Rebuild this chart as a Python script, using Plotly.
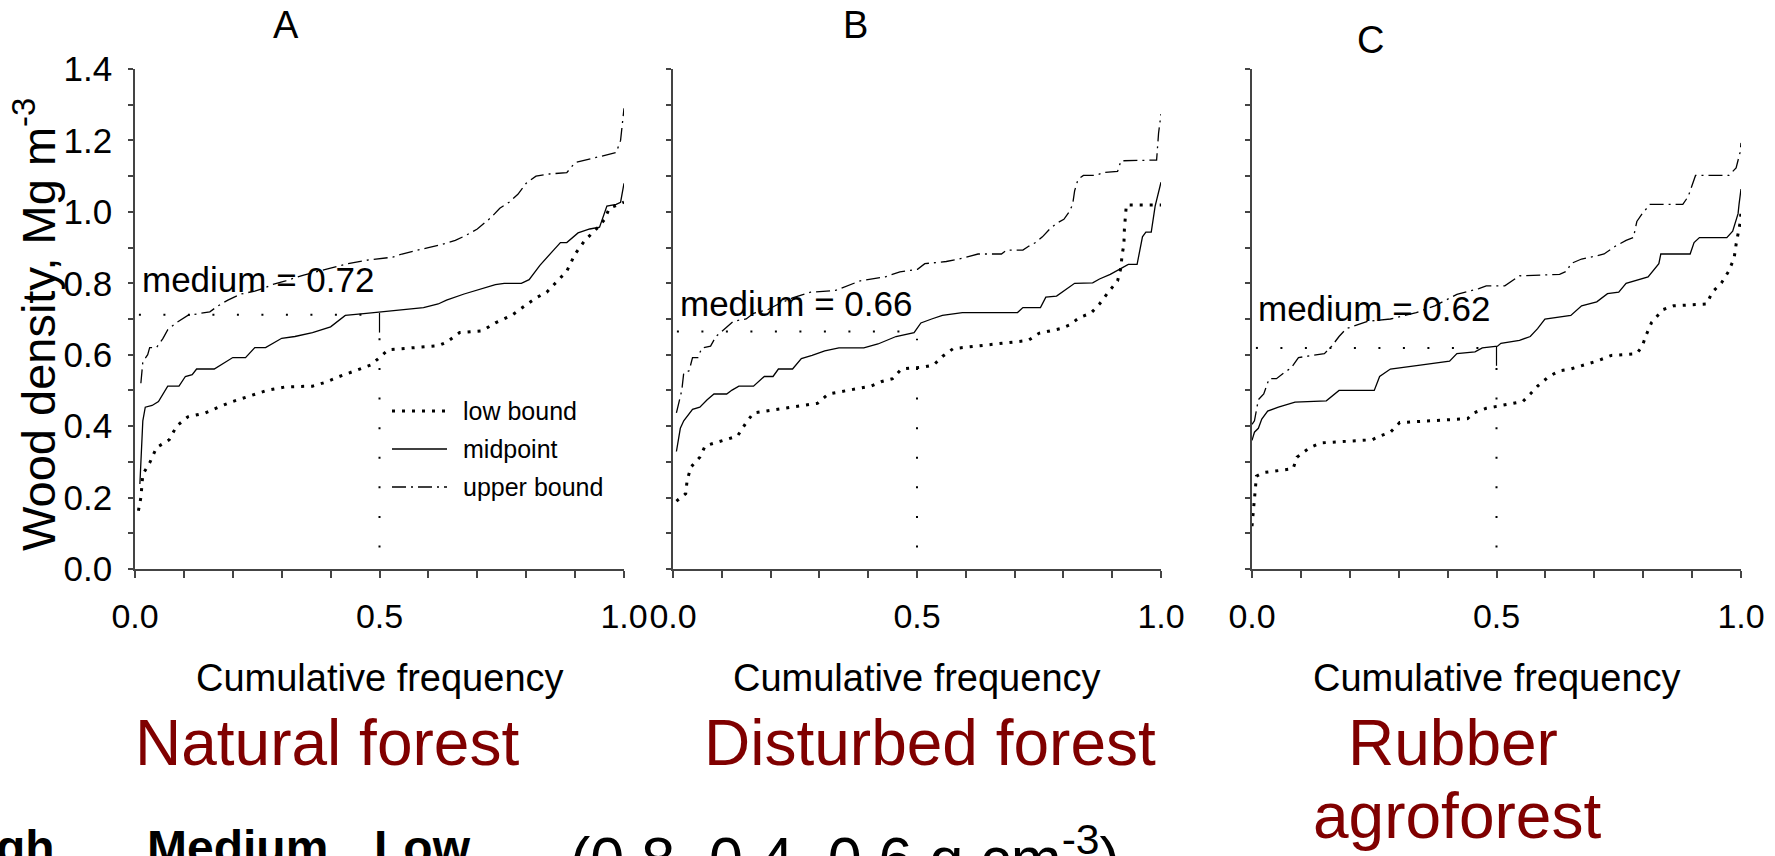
import plotly.graph_objects as go

W, H = 1775, 856
FONT = "Liberation Sans, Arial, sans-serif"
RED = "#800000"

panels = ["A", "B", "C"]
forest_names = ["Natural forest", "Disturbed forest", "Rubber", "agroforest"]
median_values = [0.712, 0.665, 0.619]
median_labels = ["medium = 0.72", "medium = 0.66", "medium = 0.62"]
x_ticks = [0.0, 0.5, 1.0]
y_ticks = [0.0, 0.2, 0.4, 0.6, 0.8, 1.0, 1.2, 1.4]
legend_names = ["low bound", "midpoint", "upper bound"]
caption_words = ["High,", "Medium,", "Low"]
caption_values = "(0.8, 0.4, 0.6 g cm<sup>-3</sup>)"

# ---------------- Panel A (natural forest) ----------------
a_low_x = [0.007, 0.012, 0.016, 0.03, 0.044, 0.07, 0.085, 0.108, 0.144, 0.17, 0.2, 0.235, 0.272, 0.308,
           0.363, 0.39, 0.418, 0.454, 0.482, 0.5, 0.518, 0.564, 0.62, 0.637, 0.664, 0.71, 0.737, 0.77,
           0.797, 0.82, 0.842, 0.86, 0.883, 0.9, 0.92, 0.947, 0.96, 0.97, 0.988, 1.0]
a_low_y = [0.163, 0.2, 0.265, 0.297, 0.34, 0.362, 0.4, 0.426, 0.437, 0.453, 0.469, 0.485, 0.501, 0.51,
           0.512, 0.523, 0.539, 0.557, 0.571, 0.592, 0.614, 0.619, 0.625, 0.635, 0.662, 0.667, 0.689, 0.71,
           0.737, 0.759, 0.775, 0.8, 0.834, 0.882, 0.92, 0.957, 0.978, 1.01, 1.021, 1.027]
a_mid_x = [0.01, 0.012, 0.016, 0.021, 0.035, 0.048, 0.057, 0.067, 0.09, 0.103, 0.117, 0.126, 0.162, 0.18,
           0.2, 0.226, 0.245, 0.267, 0.28, 0.3, 0.327, 0.363, 0.4, 0.43, 0.473, 0.5, 0.546, 0.59, 0.62,
           0.637, 0.673, 0.71, 0.737, 0.755, 0.79, 0.806, 0.828, 0.856, 0.87, 0.883, 0.906, 0.93, 0.95,
           0.965, 0.984, 0.993, 1.0]
a_mid_y = [0.238, 0.31, 0.415, 0.453, 0.458, 0.469, 0.49, 0.512, 0.512, 0.539, 0.544, 0.56, 0.56, 0.576,
           0.592, 0.592, 0.62, 0.62, 0.63, 0.646, 0.651, 0.662, 0.678, 0.71, 0.716, 0.72, 0.726, 0.732,
           0.742, 0.753, 0.77, 0.786, 0.796, 0.8, 0.8, 0.81, 0.85, 0.893, 0.914, 0.914, 0.941, 0.952,
           0.957, 1.016, 1.021, 1.027, 1.08]
a_up_x = [0.012, 0.016, 0.026, 0.03, 0.044, 0.057, 0.067, 0.085, 0.108, 0.13, 0.153, 0.17, 0.19, 0.217,
          0.245, 0.263, 0.28, 0.308, 0.345, 0.39, 0.436, 0.48, 0.5, 0.527, 0.546, 0.573, 0.6, 0.628, 0.655,
          0.678, 0.7, 0.728, 0.746, 0.765, 0.783, 0.8, 0.82, 0.847, 0.883, 0.9, 0.92, 0.95, 0.984, 0.993, 1.0]
a_up_y = [0.52, 0.58, 0.6, 0.62, 0.62, 0.645, 0.67, 0.69, 0.71, 0.715, 0.72, 0.737, 0.753, 0.77,
          0.778, 0.786, 0.796, 0.807, 0.823, 0.839, 0.855, 0.866, 0.869, 0.873, 0.882, 0.89, 0.9, 0.909,
          0.92, 0.935, 0.952, 0.984, 1.01, 1.027, 1.049, 1.08, 1.1, 1.106, 1.11, 1.138, 1.145, 1.155,
          1.166, 1.2, 1.29]

# ---------------- Panel B (disturbed forest) ----------------
b_low_x = [0.007, 0.026, 0.029, 0.037, 0.055, 0.066, 0.132, 0.15, 0.165, 0.296, 0.318, 0.362, 0.406,
           0.428, 0.45, 0.468, 0.512, 0.534, 0.552, 0.574, 0.706, 0.728, 0.75, 0.794, 0.812, 0.834, 0.856,
           0.874, 0.892, 0.911, 0.918, 0.92, 0.924, 0.925, 0.929, 1.0]
b_low_y = [0.19, 0.211, 0.249, 0.286, 0.313, 0.345, 0.372, 0.41, 0.437, 0.464, 0.49, 0.501, 0.512,
           0.525, 0.533, 0.56, 0.565, 0.571, 0.595, 0.617, 0.635, 0.64, 0.66, 0.673, 0.683, 0.705, 0.716,
           0.742, 0.775, 0.807, 0.844, 0.877, 0.909, 0.952, 1.019, 1.019]
b_mid_x = [0.007, 0.015, 0.022, 0.04, 0.055, 0.07, 0.084, 0.11, 0.121, 0.135, 0.165, 0.187, 0.205, 0.216,
           0.245, 0.263, 0.285, 0.311, 0.34, 0.391, 0.42, 0.457, 0.494, 0.508, 0.53, 0.552, 0.593, 0.706,
           0.717, 0.753, 0.764, 0.786, 0.823, 0.86, 0.874, 0.896, 0.933, 0.951, 0.962, 0.969, 0.98, 0.988, 1.0]
b_mid_y = [0.329, 0.394, 0.415, 0.447, 0.453, 0.474, 0.49, 0.49, 0.501, 0.512, 0.512, 0.539, 0.539, 0.56,
           0.56, 0.589, 0.598, 0.611, 0.619, 0.619, 0.63, 0.651, 0.662, 0.689, 0.7, 0.71, 0.718, 0.718,
           0.732, 0.732, 0.761, 0.764, 0.8, 0.801, 0.812, 0.825, 0.853, 0.853, 0.93, 0.943, 0.943, 1.016, 1.083]
b_up_x = [0.007, 0.018, 0.022, 0.033, 0.04, 0.051, 0.059, 0.077, 0.088, 0.106, 0.124, 0.15, 0.165, 0.194,
          0.216, 0.245, 0.282, 0.333, 0.384, 0.435, 0.465, 0.501, 0.516, 0.56, 0.596, 0.625, 0.673, 0.684,
          0.717, 0.728, 0.743, 0.757, 0.772, 0.786, 0.801, 0.812, 0.819, 0.823, 0.83, 0.841, 0.867, 0.882,
          0.911, 0.918, 0.991, 0.995, 1.0]
b_up_y = [0.437, 0.5, 0.549, 0.555, 0.592, 0.592, 0.619, 0.624, 0.651, 0.673, 0.694, 0.7, 0.716, 0.726,
          0.742, 0.759, 0.775, 0.78, 0.807, 0.818, 0.832, 0.839, 0.855, 0.861, 0.871, 0.882, 0.882, 0.893,
          0.893, 0.903, 0.914, 0.93, 0.952, 0.968, 0.979, 1.0, 1.021, 1.059, 1.091, 1.102, 1.102, 1.11,
          1.113, 1.143, 1.145, 1.22, 1.274]

# ---------------- Panel C (rubber agroforest) ----------------
c_low_x = [0.0, 0.003, 0.005, 0.007, 0.009, 0.024, 0.084, 0.092, 0.118, 0.141, 0.246, 0.261, 0.283, 0.302,
           0.441, 0.453, 0.479, 0.554, 0.569, 0.584, 0.607, 0.629, 0.652, 0.705, 0.735, 0.787, 0.798, 0.806,
           0.817, 0.84, 0.862, 0.93, 0.941, 0.96, 0.975, 0.986, 0.99, 0.994, 0.998, 1.0]
c_low_y = [0.12, 0.158, 0.19, 0.227, 0.26, 0.27, 0.281, 0.313, 0.34, 0.353, 0.362, 0.372, 0.383, 0.41,
           0.421, 0.437, 0.45, 0.469, 0.49, 0.512, 0.539, 0.555, 0.56, 0.582, 0.598, 0.603, 0.624, 0.655,
           0.69, 0.726, 0.737, 0.742, 0.775, 0.801, 0.834, 0.871, 0.909, 0.941, 0.968, 1.0]
c_mid_x = [0.0, 0.003, 0.005, 0.013, 0.02, 0.032, 0.054, 0.088, 0.152, 0.178, 0.25, 0.261, 0.283, 0.344,
           0.404, 0.419, 0.456, 0.471, 0.502, 0.509, 0.547, 0.569, 0.584, 0.599, 0.652, 0.674, 0.705, 0.727,
           0.75, 0.765, 0.795, 0.81, 0.832, 0.836, 0.896, 0.904, 0.915, 0.971, 0.983, 0.994, 0.996, 1.0]
c_mid_y = [0.36, 0.372, 0.383, 0.394, 0.42, 0.442, 0.453, 0.467, 0.471, 0.5, 0.5, 0.539, 0.56, 0.571,
           0.582, 0.603, 0.608, 0.619, 0.624, 0.632, 0.64, 0.651, 0.673, 0.7, 0.71, 0.737, 0.748, 0.771,
           0.775, 0.8, 0.812, 0.818, 0.855, 0.882, 0.882, 0.914, 0.928, 0.928, 0.946, 0.995, 1.021, 1.064]
c_up_x = [0.0, 0.005, 0.013, 0.024, 0.035, 0.05, 0.065, 0.08, 0.095, 0.148, 0.163, 0.178, 0.193, 0.216,
          0.238, 0.283, 0.336, 0.374, 0.419, 0.464, 0.479, 0.517, 0.532, 0.547, 0.629, 0.644, 0.652, 0.674,
          0.705, 0.72, 0.742, 0.765, 0.78, 0.787, 0.798, 0.814, 0.881, 0.892, 0.907, 0.975, 0.99, 0.998, 1.0]
c_up_y = [0.405, 0.415, 0.474, 0.49, 0.533, 0.533, 0.549, 0.563, 0.592, 0.603, 0.624, 0.651, 0.673, 0.683,
          0.694, 0.7, 0.718, 0.737, 0.769, 0.785, 0.793, 0.793, 0.807, 0.821, 0.825, 0.834, 0.855, 0.868,
          0.877, 0.882, 0.903, 0.92, 0.928, 0.973, 0.995, 1.021, 1.021, 1.043, 1.102, 1.102, 1.123, 1.166, 1.193]

data = {
    "A": [(a_low_x, a_low_y), (a_mid_x, a_mid_y), (a_up_x, a_up_y)],
    "B": [(b_low_x, b_low_y), (b_mid_x, b_mid_y), (b_up_x, b_up_y)],
    "C": [(c_low_x, c_low_y), (c_mid_x, c_mid_y), (c_up_x, c_up_y)],
}

# styles
LOW_STYLE = dict(color="black", width=3, dash="3px,7px")
MID_STYLE = dict(color="black", width=1.3)
UP_STYLE = dict(color="black", width=1.3, dash="14px,5px,2px,5px")
styles = [LOW_STYLE, MID_STYLE, UP_STYLE]


def px(x):
    return x / W


def py(y):
    return 1 - y / H


x_dom_px = [(135, 624), (673, 1161), (1252, 1741)]
y_dom = [py(569), py(69)]

fig = go.Figure()
shapes = []
annotations = []

for i, p in enumerate(panels):
    xa = "x" if i == 0 else f"x{i + 1}"
    ya = "y" if i == 0 else f"y{i + 1}"
    for (xs, ys), st, nm in zip(data[p], styles, legend_names):
        fig.add_trace(go.Scatter(x=xs, y=ys, mode="lines", line=st, name=nm,
                                 showlegend=False, xaxis=xa, yaxis=ya, hoverinfo="skip"))
    med = median_values[i]
    # horizontal dotted median line
    fig.add_trace(go.Scatter(x=[0.008, 0.5], y=[med, med], mode="lines",
                             line=dict(color="black", width=2, dash="2px,22.5px"),
                             showlegend=False, xaxis=xa, yaxis=ya, hoverinfo="skip"))
    # vertical dotted line at cumulative frequency 0.5
    fig.add_trace(go.Scatter(x=[0.5, 0.5], y=[0.06, med - 0.02], mode="lines",
                             line=dict(color="black", width=2, dash="2px,27.6px"),
                             showlegend=False, xaxis=xa, yaxis=ya, hoverinfo="skip"))
    if p != "B":
        fig.add_trace(go.Scatter(x=[0.5, 0.5], y=[med - 0.05, med + 0.005], mode="lines",
                                 line=dict(color="black", width=1.2),
                                 showlegend=False, xaxis=xa, yaxis=ya, hoverinfo="skip"))

    axis_common = dict(showline=True, linecolor="#444", linewidth=1.5, showgrid=False, zeroline=False,
                       ticks="outside", tickcolor="#444", tickwidth=1.5, mirror=False, automargin=False)
    x0, x1 = x_dom_px[i]
    fig.update_layout(**{
        ("xaxis" if i == 0 else f"xaxis{i + 1}"): dict(
            domain=[px(x0), px(x1)], range=[0, 1], anchor=ya, tickvals=x_ticks,
            ticktext=[f"{v:.1f}" for v in x_ticks], ticklen=7,
            minor=dict(dtick=0.1, tick0=0, ticks="outside", ticklen=7, tickcolor="#444", tickwidth=1.5),
            tickfont=dict(family=FONT, size=34, color="black"), ticklabelstandoff=9,
            **axis_common),
        ("yaxis" if i == 0 else f"yaxis{i + 1}"): dict(
            domain=y_dom, range=[0, 1.4], anchor=xa, tickvals=y_ticks,
            ticktext=[f"{v:.1f}" for v in y_ticks], ticklen=5, showticklabels=(i == 0),
            minor=dict(dtick=0.1, tick0=0, ticks="outside", ticklen=5, tickcolor="#444", tickwidth=1.5),
            tickfont=dict(family=FONT, size=35, color="black"), ticklabelstandoff=9,
            **axis_common),
    })
    annotations.append(dict(x=(x0 + x1) / 2 / W, y=py(678), xref="paper", yref="paper",
                            text="Cumulative frequency", showarrow=False,
                            font=dict(family=FONT, size=38, color="black"),
                            xanchor="center", yanchor="middle"))

# panel letters
for letter, (cx, cy) in zip(panels, [(286, 25), (855, 25), (1370, 40)]):
    annotations.append(dict(x=px(cx), y=py(cy), xref="paper", yref="paper", text=letter,
                            showarrow=False, font=dict(family=FONT, size=38, color="black"),
                            xanchor="center", yanchor="middle"))

# median labels
for lbl, (lx, ly) in zip(median_labels, [(140, 279), (678, 303), (1256, 308)]):
    annotations.append(dict(x=px(lx), y=py(ly), xref="paper", yref="paper", text=lbl,
                            showarrow=False, font=dict(family=FONT, size=35, color="black"),
                            xanchor="left", yanchor="middle"))

# forest names
for txt, (cx, cy) in zip(forest_names, [(327, 743), (930, 743), (1453, 743), (1457, 816)]):
    annotations.append(dict(x=px(cx), y=py(cy), xref="paper", yref="paper", text=txt,
                            showarrow=False, font=dict(family=FONT, size=64, color=RED),
                            xanchor="center", yanchor="middle"))

# y axis title
annotations.append(dict(x=px(35), y=py(325), xref="paper", yref="paper",
                        text="Wood density, Mg m<sup>-3</sup>", textangle=-90, showarrow=False,
                        font=dict(family=FONT, size=47, color="black"),
                        xanchor="center", yanchor="middle"))

# bottom caption (cut off by the picture's lower edge)
for word, (wx, anchor) in zip(caption_words, [(70, "right"), (145, "left"), (372, "left")]):
    annotations.append(dict(x=px(wx), y=py(847), xref="paper", yref="paper",
                            text=f"<b>{word}</b>", showarrow=False,
                            font=dict(family=FONT, size=48, color="black"),
                            xanchor=anchor, yanchor="middle"))
annotations.append(dict(x=px(568), y=py(854), xref="paper", yref="paper",
                        text=caption_values, showarrow=False,
                        font=dict(family=FONT, size=61, color="black"),
                        xanchor="left", yanchor="middle"))

# legend inside panel A (drawn manually)
for nm, st, ry in zip(legend_names, styles, [411, 449, 487]):
    shapes.append(dict(type="line", xref="paper", yref="paper", x0=px(392), x1=px(447),
                       y0=py(ry), y1=py(ry),
                       line=dict(color="black", width=st["width"], dash=st.get("dash", "solid"))))
    annotations.append(dict(x=px(461), y=py(ry), xref="paper", yref="paper", text=nm,
                            showarrow=False, font=dict(family=FONT, size=25, color="black"),
                            xanchor="left", yanchor="middle"))

fig.update_layout(width=W, height=H, autosize=False, margin=dict(l=0, r=0, t=0, b=0, autoexpand=False),
                  paper_bgcolor="white", plot_bgcolor="white", showlegend=False,
                  shapes=shapes, annotations=annotations)

fig.write_html("out.html")
